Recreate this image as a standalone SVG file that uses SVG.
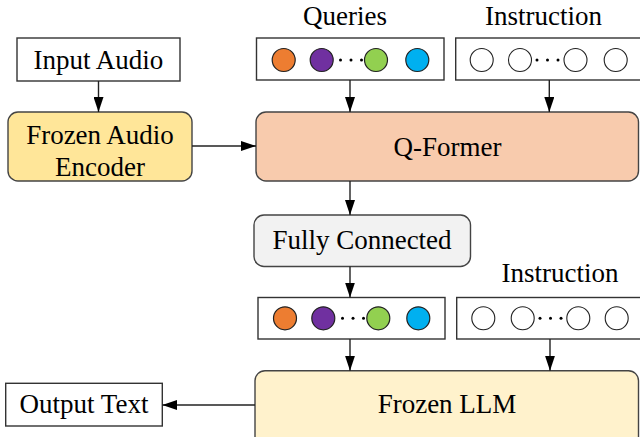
<svg xmlns="http://www.w3.org/2000/svg" width="640" height="437" viewBox="0 0 640 437">
<defs>
<style>
text{font-family:"Liberation Serif","Times New Roman",serif;font-size:27px;fill:#000;text-anchor:middle}
.box{fill:#fff;stroke:#333;stroke-width:1.4}
.rbox{stroke:#444;stroke-width:1.4}
.tok{stroke:#222;stroke-width:1.2}
.ins{fill:#fff;stroke:#222;stroke-width:1.1}
.dot{fill:#000}
.edge{stroke:#222;stroke-width:1.4;fill:none;marker-end:url(#ah)}
</style>
<marker id="ah" viewBox="0 0 15 10" refX="15" refY="5" markerWidth="15" markerHeight="10" markerUnits="userSpaceOnUse" orient="auto">
<path d="M0,0 L15,5 L0,10 z" fill="#000"/>
</marker>
</defs>

<g id="input-audio">
<rect class="box" x="17" y="38" width="163" height="43"/>
<text x="98.5" y="69">Input Audio</text>
</g>

<g id="audio-encoder">
<rect class="rbox" x="8" y="112" width="184" height="69" rx="10" fill="#FFE699"/>
<text x="100" y="144">Frozen Audio</text>
<text x="100" y="175.5">Encoder</text>
</g>

<g id="queries-label"><text x="345" y="25">Queries</text></g>
<g id="instruction-label-1"><text x="543.5" y="25">Instruction</text></g>

<g id="queries-1">
<rect class="box" x="256.5" y="38" width="187.5" height="42"/>
<circle class="tok" cx="283.7" cy="60" r="11.5" fill="#ED7D31"/>
<circle class="tok" cx="321.7" cy="60" r="11.5" fill="#7030A0"/>
<circle class="dot" cx="340.5" cy="60" r="1.5"/>
<circle class="dot" cx="351" cy="60" r="1.5"/>
<circle class="dot" cx="361.5" cy="60" r="1.5"/>
<circle class="tok" cx="376" cy="60" r="11.5" fill="#92D050"/>
<circle class="tok" cx="417.3" cy="60" r="11.5" fill="#00B0F0"/>
</g>

<g id="instruction-1">
<rect class="box" x="455.7" y="38" width="200" height="42"/>
<circle class="ins" cx="481.7" cy="60" r="11.5"/>
<circle class="ins" cx="520" cy="60" r="11.5"/>
<circle class="dot" cx="537" cy="60" r="1.5"/>
<circle class="dot" cx="547.5" cy="60" r="1.5"/>
<circle class="dot" cx="558" cy="60" r="1.5"/>
<circle class="ins" cx="575.5" cy="60" r="11.5"/>
<circle class="ins" cx="615.7" cy="60" r="11.5"/>
</g>

<g id="q-former">
<rect class="rbox" x="256" y="112" width="382.5" height="69" rx="10" fill="#F8CBAD"/>
<text x="447.5" y="156">Q-Former</text>
</g>

<g id="fully-connected">
<rect class="rbox" x="254" y="215" width="216.5" height="51.5" rx="10" fill="#F2F2F2"/>
<text x="362" y="249.3">Fully Connected</text>
</g>

<g id="instruction-label-2"><text x="560" y="282.3">Instruction</text></g>

<g id="queries-2">
<rect class="box" x="258" y="297.5" width="187" height="41.5"/>
<circle class="tok" cx="285" cy="318.3" r="11.5" fill="#ED7D31"/>
<circle class="tok" cx="323.3" cy="318.3" r="11.5" fill="#7030A0"/>
<circle class="dot" cx="342.5" cy="318.3" r="1.5"/>
<circle class="dot" cx="353" cy="318.3" r="1.5"/>
<circle class="dot" cx="363.5" cy="318.3" r="1.5"/>
<circle class="tok" cx="378.3" cy="318.3" r="11.5" fill="#92D050"/>
<circle class="tok" cx="418.3" cy="318.3" r="11.5" fill="#00B0F0"/>
</g>

<g id="instruction-2">
<rect class="box" x="456.7" y="297.5" width="200" height="41.5"/>
<circle class="ins" cx="483.3" cy="318.3" r="11.5"/>
<circle class="ins" cx="522.7" cy="318.3" r="11.5"/>
<circle class="dot" cx="540" cy="318.3" r="1.5"/>
<circle class="dot" cx="550.5" cy="318.3" r="1.5"/>
<circle class="dot" cx="561" cy="318.3" r="1.5"/>
<circle class="ins" cx="578.3" cy="318.3" r="11.5"/>
<circle class="ins" cx="616.7" cy="318.3" r="11.5"/>
</g>

<g id="frozen-llm">
<rect class="rbox" x="255" y="370.7" width="383.5" height="80" rx="10" fill="#FFF2CC"/>
<text x="447" y="413.3">Frozen LLM</text>
</g>

<g id="output-text">
<rect class="box" x="5.7" y="383.3" width="156.6" height="42.7"/>
<text x="84" y="413.3">Output Text</text>
</g>

<g id="connectors">
<line class="edge" x1="98.5" y1="81" x2="98.5" y2="112"/>
<line class="edge" x1="192" y1="146" x2="256" y2="146"/>
<line class="edge" x1="350" y1="80" x2="350" y2="112"/>
<line class="edge" x1="549.3" y1="80" x2="549.3" y2="112"/>
<line class="edge" x1="350" y1="181" x2="350" y2="215"/>
<line class="edge" x1="350" y1="266.5" x2="350" y2="297.5"/>
<line class="edge" x1="350" y1="339" x2="350" y2="370.7"/>
<line class="edge" x1="550" y1="339" x2="550" y2="370.7"/>
<line class="edge" x1="255" y1="405" x2="162.3" y2="405"/>
</g>
</svg>
